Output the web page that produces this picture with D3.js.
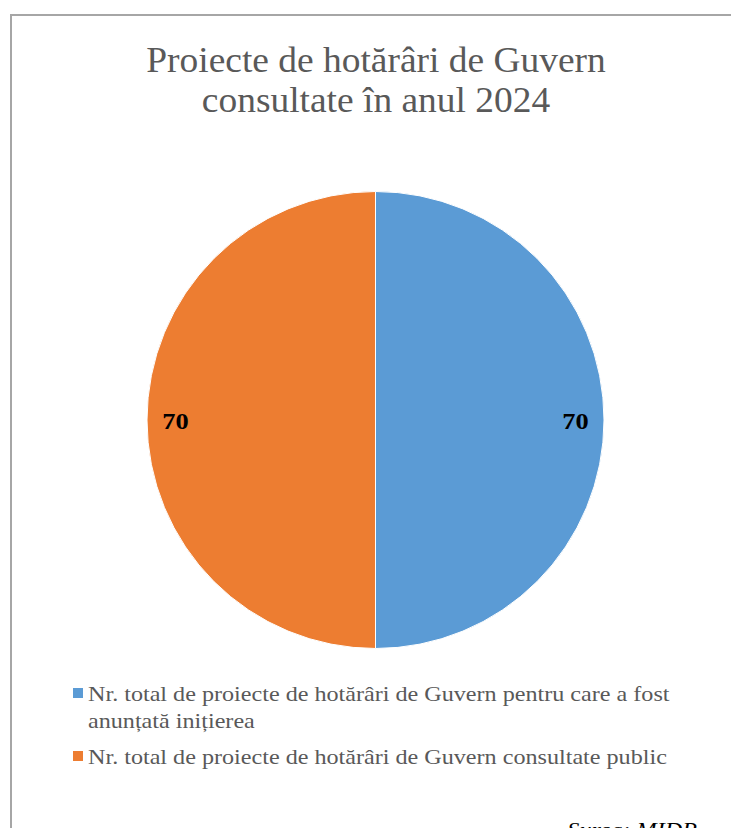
<!DOCTYPE html>
<html>
<head>
<meta charset="utf-8">
<script src="https://cdn.jsdelivr.net/npm/d3@7"></script>
<style>
  body { margin: 0; background: #fff; }
  text { font-family: "Liberation Serif", "Times New Roman", serif; }
</style>
</head>
<body>
<div id="chart"></div>
<script>
var width = 731;
var height = 828;

// chart data
var titleLines = ["Proiecte de hotărâri de Guvern", "consultate în anul 2024"];
var categories = [
  "Nr. total de proiecte de hotărâri de Guvern pentru care a fost anunțată inițierea",
  "Nr. total de proiecte de hotărâri de Guvern consultate public"
];
var values = [70, 70];
var colors = ["#5b9bd5", "#ed7d31"];
var source = "Sursa: MIDR";

var data = categories.map(function(c, i) { return {name: c, value: values[i]}; });

// the original picture is a bit stretched sideways
var sx = 1.07;

var svg = d3.select("#chart").append("svg")
  .attr("width", width)
  .attr("height", height);

// outer frame (runs off the page right and bottom)
svg.append("rect")
  .attr("x", 11).attr("y", 15)
  .attr("width", 900).attr("height", 900)
  .attr("fill", "none")
  .attr("stroke", "#a6a6a6")
  .attr("stroke-width", 2);

// title
svg.append("g").selectAll("text")
  .data(titleLines)
  .enter().append("text")
  .attr("transform", function(d, i) { return "translate(376," + (72 + i * 40) + ") scale(" + sx + ",1)"; })
  .attr("text-anchor", "middle")
  .attr("fill", "#595959")
  .style("font-size", "35px")
  .text(function(d) { return d; });

// pie
var cx = 375.5, cy = 420, radius = 228.5;
var color = d3.scaleOrdinal().domain(categories).range(colors);
var pie = d3.pie().sort(null).value(function(d) { return d.value; });
var arc = d3.arc().innerRadius(0).outerRadius(radius);
var labelArc = d3.arc().innerRadius(radius * 0.875).outerRadius(radius * 0.875);

var g = svg.append("g").attr("transform", "translate(" + cx + "," + cy + ")");
var slices = g.selectAll("g.slice")
  .data(pie(data))
  .enter().append("g").attr("class", "slice");

slices.append("path")
  .attr("d", arc)
  .attr("fill", function(d) { return color(d.data.name); })
  .attr("stroke", "#fff")
  .attr("stroke-width", 1);

slices.append("text")
  .attr("transform", function(d) {
    var c = labelArc.centroid(d);
    return "translate(" + c[0] + "," + (c[1] + 9) + ") scale(1.1,1)";
  })
  .attr("text-anchor", "middle")
  .attr("fill", "#000")
  .style("font-size", "24px")
  .style("font-weight", "bold")
  .text(function(d) { return d.data.value; });

// legend with wrapping
var legendX = 73, legendTextX = 88, maxW = 605;
var legendLine = 27, legendGap = 36;
var legend = svg.append("g");
var y = 701;
data.forEach(function(d) {
  legend.append("rect")
    .attr("x", legendX).attr("y", y - 13)
    .attr("width", 10).attr("height", 10)
    .attr("fill", color(d.name));
  var t = legend.append("text")
    .attr("transform", "translate(" + legendTextX + "," + y + ") scale(1.15,1)")
    .attr("fill", "#595959")
    .style("font-size", "21px");
  var words = d.name.split(" ");
  var line = [];
  var tspan = t.append("tspan").attr("x", 0).attr("y", 0);
  var lines = 1;
  words.forEach(function(w) {
    line.push(w);
    tspan.text(line.join(" "));
    if (tspan.node().getComputedTextLength() * 1.15 > maxW && line.length > 1) {
      line.pop();
      tspan.text(line.join(" "));
      line = [w];
      tspan = t.append("tspan").attr("x", 0)
        .attr("y", lines * legendLine).text(w);
      lines++;
    }
  });
  y += (lines - 1) * legendLine + legendGap;
});

// source note
svg.append("text")
  .attr("transform", "translate(697,837) scale(1.1,1)")
  .attr("text-anchor", "end")
  .attr("fill", "#000")
  .style("font-size", "22px")
  .style("font-style", "italic")
  .text(source);
</script>
</body>
</html>
